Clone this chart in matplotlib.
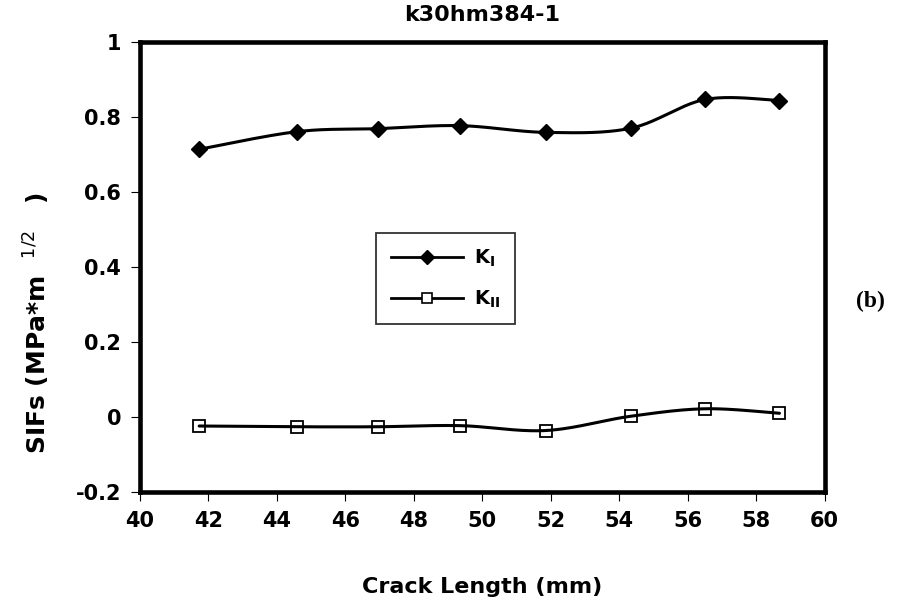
import numpy as np
import matplotlib
matplotlib.use("Agg")
import matplotlib.pyplot as plt
from matplotlib.lines import Line2D

plt.rcParams['font.family'] = ['DejaVu Sans']
plt.rcParams['mathtext.fontset'] = 'dejavusans'

# Crack length (mm) and stress intensity factors
crack_length = [41.73, 44.59, 46.95, 49.35, 51.86, 54.33, 56.52, 58.68]
k_i = [0.714, 0.761, 0.769, 0.777, 0.759, 0.770, 0.847, 0.844]
k_ii = [-0.024, -0.026, -0.026, -0.023, -0.036, 0.002, 0.022, 0.010]

x_ticks = [40, 42, 44, 46, 48, 50, 52, 54, 56, 58, 60]
y_ticks = [-0.2, 0, 0.2, 0.4, 0.6, 0.8, 1]
y_tick_labels = ['-0.2', '0', '0.2', '0.4', '0.6', '0.8', '1']


def smooth(xs, ys, n=40):
    """Piecewise cubic Bezier through the points (Catmull-Rom style smoothing)."""
    p = np.column_stack([xs, ys]).astype(float)
    ext = np.vstack([p[0], p, p[-1]])
    out = []
    t = np.linspace(0, 1, n)[:, None]
    for i in range(len(p) - 1):
        p0, p1, p2, p3 = ext[i], ext[i + 1], ext[i + 2], ext[i + 3]
        c1 = p1 + (p2 - p0) / 6.0
        c2 = p2 - (p3 - p1) / 6.0
        seg = ((1 - t) ** 3) * p1 + 3 * ((1 - t) ** 2) * t * c1 \
            + 3 * (1 - t) * t ** 2 * c2 + t ** 3 * p2
        out.append(seg if i == 0 else seg[1:])
    s = np.vstack(out)
    return s[:, 0], s[:, 1]


fig = plt.figure(figsize=(9.19, 6.09), dpi=100)
ax = fig.add_axes([0.1523, 0.1921, 0.745, 0.7389])

lw = 2.2
sx, sy = smooth(crack_length, k_i)
ax.plot(sx, sy, color='black', lw=lw, solid_capstyle='round', zorder=2)
ax.plot(crack_length, k_i, linestyle='none', marker='D', ms=8,
        color='black', zorder=3)

sx2, sy2 = smooth(crack_length, k_ii)
ax.plot(sx2, sy2, color='black', lw=lw, solid_capstyle='round', zorder=2)
ax.plot(crack_length, k_ii, linestyle='none', marker='s', ms=8.5,
        markerfacecolor='none', markeredgecolor='black', mew=1.3, zorder=3)

ax.set_xlim(40, 60)
ax.set_ylim(-0.2, 1.0)
ax.set_xticks(x_ticks)
ax.set_xticklabels([str(v) for v in x_ticks])
ax.set_yticks(y_ticks)
ax.set_yticklabels(y_tick_labels)

for s in ax.spines.values():
    s.set_linewidth(3.3)
ax.tick_params(direction='out', length=6.5, width=0.8, labelsize=15, pad=7)
for lab in ax.get_xticklabels() + ax.get_yticklabels():
    lab.set_fontweight('bold')

ax.set_title('k30hm384-1', fontsize=16, fontweight='bold', pad=15)
ax.set_xlabel('Crack Length (mm)', fontsize=16, fontweight='bold', labelpad=33)

# vertical axis title, anchored on its baseline
fig.text(47 / 919, 1 - 323 / 609, r'SIFs (MPa*m$^{\ \ \ \mathrm{1/2}}$   )',
         fontsize=18, fontweight='bold', rotation=90, rotation_mode='anchor',
         ha='center', va='baseline')

handles = [
    Line2D([], [], color='black', lw=2, marker='D', ms=7),
    Line2D([], [], color='black', lw=2, marker='s', ms=7,
           markerfacecolor='white', mew=1.2),
]
labels = [r'$\mathbf{K}_\mathbf{I}$', r'$\mathbf{K}_\mathbf{II}$']
leg = ax.legend(handles, labels, loc='upper left', fontsize=14,
                frameon=True, fancybox=False, edgecolor='black',
                handlelength=3.7, borderpad=0.75, labelspacing=1.0,
                handletextpad=0.6, borderaxespad=0)
leg.get_frame().set_linewidth(1.3)
leg.set_bbox_to_anchor((376 / 919, 1 - 233 / 609), transform=fig.transFigure)

fig.text(870 / 919, 1 - 301 / 609, '(b)', fontsize=17, fontweight='bold',
         family='Liberation Serif', ha='center', va='center')

fig.savefig('out.png', dpi=100)
